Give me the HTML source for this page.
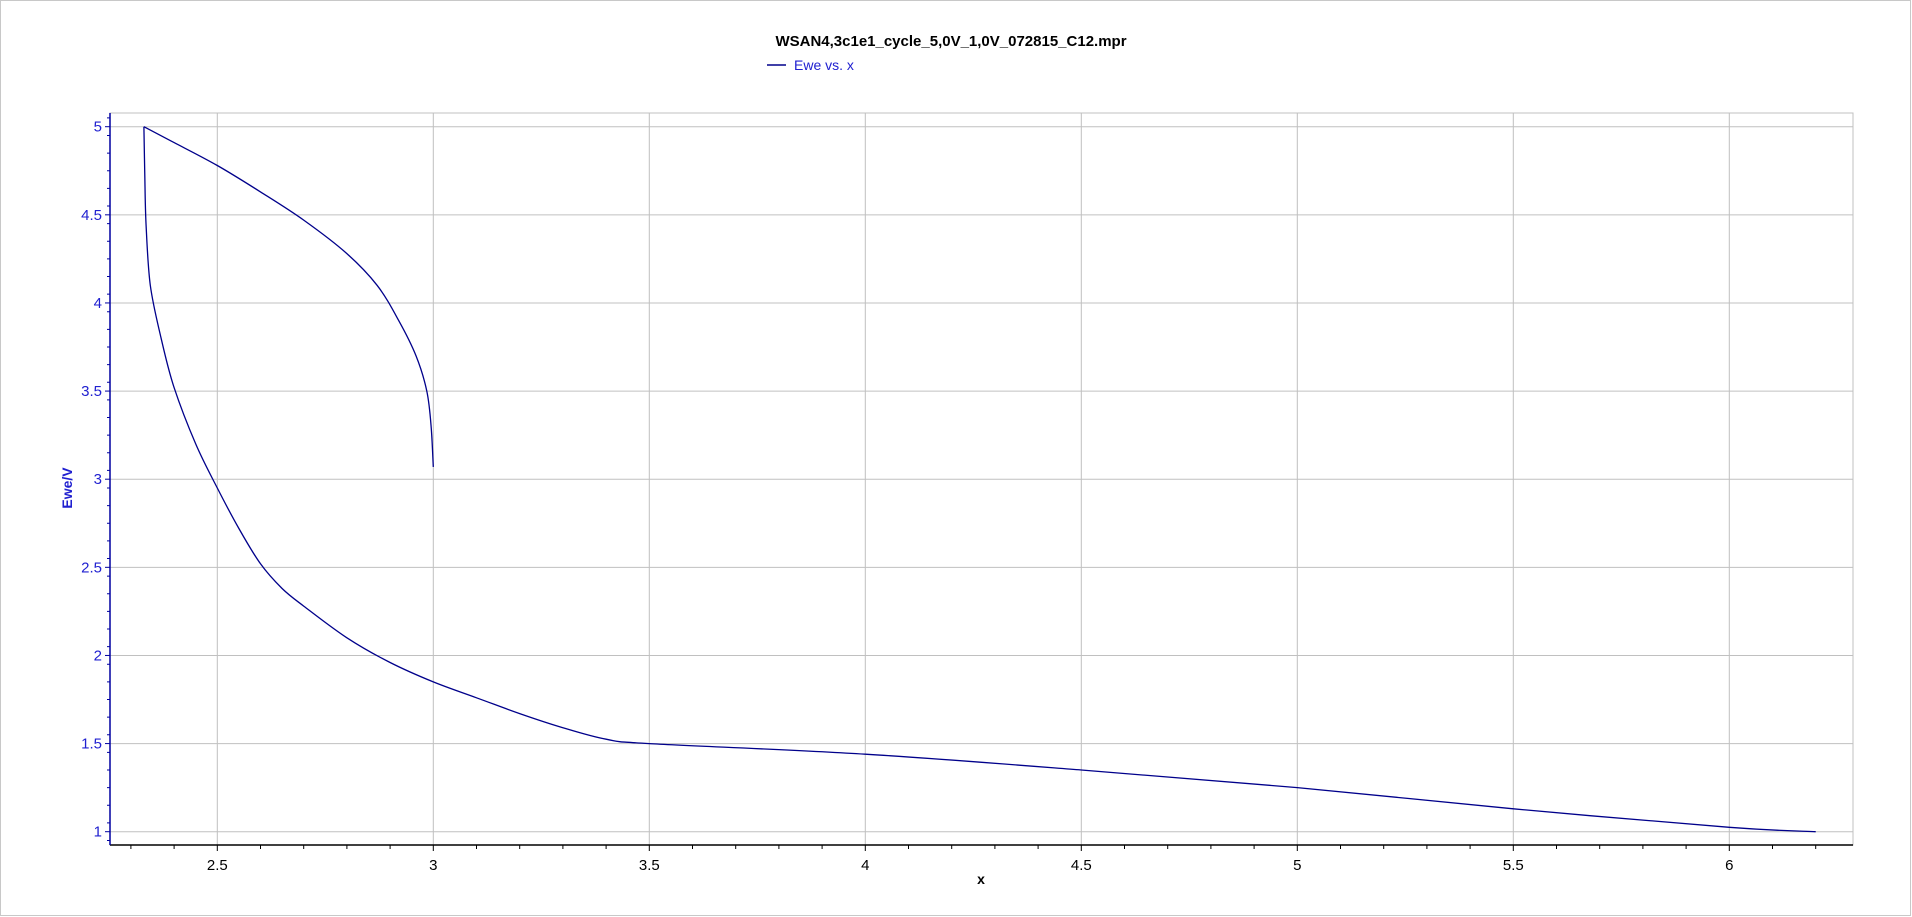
<!DOCTYPE html>
<html><head><meta charset="utf-8"><style>
html,body{margin:0;padding:0;background:#fff;}
svg{display:block;font-family:"Liberation Sans",sans-serif;}
</style></head><body>
<svg id="chart" width="1912" height="917">
<rect x="0.5" y="0.5" width="1910" height="915" fill="#fff" stroke="#c8c8c8"/>
<text x="951" y="46" text-anchor="middle" font-size="15" font-weight="bold" fill="#000">WSAN4,3c1e1_cycle_5,0V_1,0V_072815_C12.mpr</text>
<line x1="767" y1="65" x2="786" y2="65" stroke="#00008b" stroke-width="1.5"/>
<text x="794" y="70" font-size="14" fill="#2020d0">Ewe vs. x</text>
<g id="grid"></g>
<g id="axes"></g>
<path id="seriesA" fill="none" stroke="#00008b" stroke-width="1.3"/>
<path id="seriesB" fill="none" stroke="#00008b" stroke-width="1.3"/>
<text x="0" y="0" transform="translate(72,488) rotate(-90)" text-anchor="middle" font-size="14" font-weight="bold" fill="#2020d0">Ewe/V</text>
<text x="981" y="884" text-anchor="middle" font-size="14" font-weight="bold" fill="#000">x</text>
</svg>
<script>
const xTicks=[2.5,3,3.5,4,4.5,5,5.5,6];
const yTicks=[1,1.5,2,2.5,3,3.5,4,4.5,5];
const xsA=[2.33,2.4,2.5,2.6,2.7,2.8,2.87,2.92,2.96,2.985,2.995,3.0];
const ysA=[5.0,4.91,4.78,4.63,4.47,4.28,4.1,3.9,3.7,3.5,3.3,3.07];
const xsB=[2.33,2.332,2.335,2.345,2.37,2.4,2.45,2.5,2.55,2.6,2.65,2.7,2.8,2.9,3.0,3.1,3.2,3.3,3.4,3.5,4.0,4.5,5.0,5.5,6.0,6.2];
const ysB=[5.0,4.75,4.45,4.1,3.8,3.52,3.2,2.95,2.72,2.52,2.38,2.28,2.1,1.96,1.85,1.76,1.67,1.59,1.525,1.5,1.44,1.35,1.25,1.13,1.025,1.0];
const L=110,R=1853,T=113,B=845;
const X=v=>217.3+(v-2.5)*432;
const Y=v=>831.7-(v-1)*176.25;
const NS='http://www.w3.org/2000/svg';
function mk(t,a,p){const e=document.createElementNS(NS,t);for(const k in a)e.setAttribute(k,a[k]);p.appendChild(e);return e;}
const grid=document.getElementById('grid'),axes=document.getElementById('axes');
mk('rect',{x:L,y:T,width:R-L,height:B-T,fill:'none',stroke:'#c0c0c0'},grid);
xTicks.forEach(v=>{
 const g=mk('line',{x1:X(v),x2:X(v),y1:T,y2:B,stroke:'#c0c0c0'},grid);
 
 
 const t=mk('text',{x:X(v),y:B+25,'text-anchor':'middle','font-size':15,fill:'#000'},axes);
 t.textContent=v;
 
 
});
yTicks.forEach(v=>{
 const g=mk('line',{x1:L,x2:R,y1:Y(v),y2:Y(v),stroke:'#c0c0c0'},grid);
 
 
 mk('line',{x1:L-5,x2:L,y1:Y(v),y2:Y(v),stroke:'#0000a0'},axes);
 const t=mk('text',{x:L-8,y:Y(v)+5,'text-anchor':'end','font-size':15,fill:'#2020d0'},axes);
 t.textContent=v;
 
 
});
for(let i=0;;i++){const v=2.3+i*0.1;const x=X(v);if(x>R)break;if(x<L)continue;mk('line',{x1:x,x2:x,y1:B,y2:B+(Math.abs(v*2-Math.round(v*2))<1e-6?6:4),stroke:'#000'},axes);}
for(let i=0;;i++){const v=0.95+i*0.1;const y=Y(v);if(y<T)break;if(y>B)continue;mk('line',{x1:L-3,x2:L,y1:y,y2:y,stroke:'#0000a0'},axes);}
const xa=mk('line',{x1:L,x2:R,y1:B,y2:B,stroke:'#000','stroke-width':1.5},axes);


const ya=mk('line',{x1:L,x2:L,y1:T,y2:B,stroke:'#0000a0','stroke-width':1.5},axes);


function smooth(xs,ys){
 const p=xs.map((v,i)=>[X(v),Y(ys[i])]);
 let d='M'+p[0][0].toFixed(1)+','+p[0][1].toFixed(1);
 for(let i=0;i<p.length-1;i++){
  const p0=p[i-1]||p[i],p1=p[i],p2=p[i+1],p3=p[i+2]||p2;
  const c1=[p1[0]+(p2[0]-p0[0])/6,p1[1]+(p2[1]-p0[1])/6];
  const c2=[p2[0]-(p3[0]-p1[0])/6,p2[1]-(p3[1]-p1[1])/6];
  d+='C'+c1.map(n=>n.toFixed(1)).join(',')+' '+c2.map(n=>n.toFixed(1)).join(',')+' '+p2[0].toFixed(1)+','+p2[1].toFixed(1);
 }
 return d;
}
document.getElementById('seriesA').setAttribute('d',smooth(xsA,ysA));
document.getElementById('seriesB').setAttribute('d',smooth(xsB,ysB));
</script>
</body></html>
